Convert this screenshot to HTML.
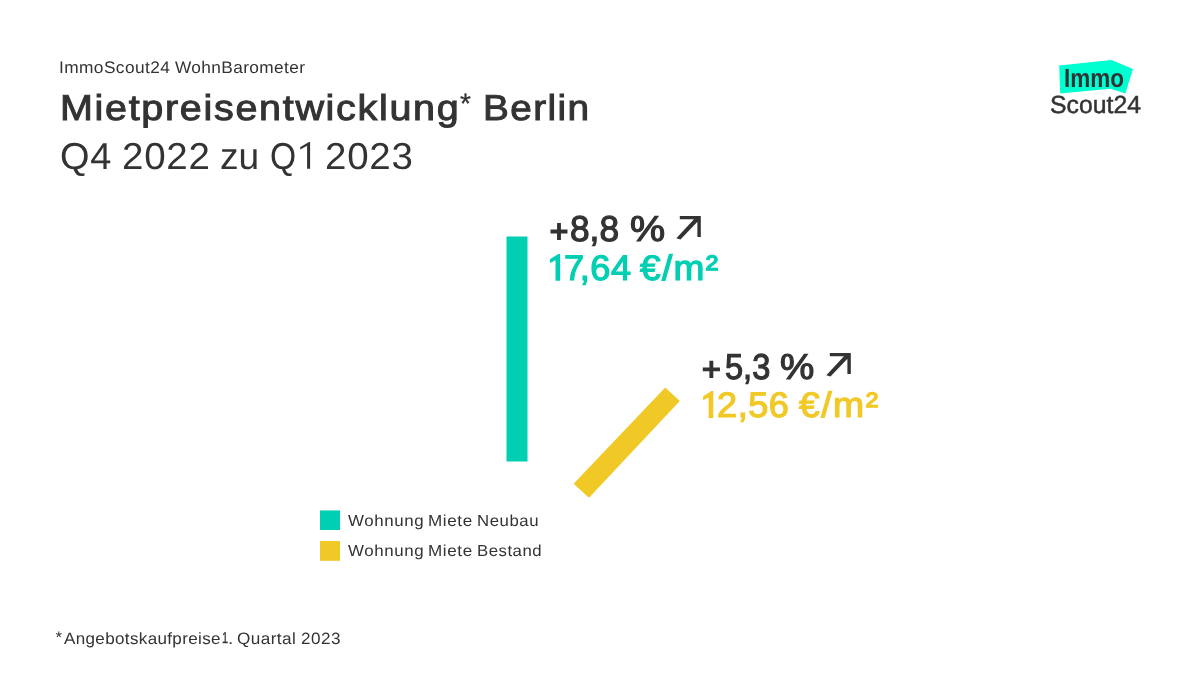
<!DOCTYPE html>
<html><head><meta charset="utf-8"><title>Mietpreisentwicklung Berlin</title>
<style>
html,body{margin:0;padding:0;background:#fff;}
body{width:1200px;height:676px;position:relative;overflow:hidden;font-family:"Liberation Sans",sans-serif;}
.t{position:absolute;white-space:nowrap;line-height:normal;font-family:"Liberation Sans",sans-serif;transform-origin:0 0;text-rendering:geometricPrecision;}
svg{position:absolute;left:0;top:0;}
#L{position:absolute;left:0;top:0;width:1200px;height:676px;will-change:transform;}
</style></head><body>
<svg width="1200" height="676" viewBox="0 0 1200 676">
<rect x="506.5" y="236.5" width="21" height="225" fill="#00cfb3"/>
<polygon points="665.2,387.4 679.8,401 589,497.8 573.6,483.8" fill="#f1c927"/>
<rect x="320" y="510.4" width="20" height="19.6" fill="#00cfb3"/>
<rect x="320" y="541" width="20" height="19.8" fill="#f1c927"/>
<polygon points="1059.2,65.5 1111.5,60.1 1132.9,69.1 1125.4,93.4 1110.4,88.8 1060.2,93.4" fill="#00ffd0"/>
<g fill="#333">
<path d="M679.8 216H700.8V237H697.4V219.2H679.8Z M676.3 238.2L696.3 216.8L699.6 219.6L680.5 239.6Z"/>
<path transform="translate(150 137)" d="M679.8 216H700.8V237H697.4V219.2H679.8Z M676.3 238.2L696.3 216.8L699.6 219.6L680.5 239.6Z"/>
<path d="M300.1 147.3L309 142H310.1V168.8H307.1V145.65L300.3 149.5Z"/>
</g>
<path d="M549.9 259.3L558.3 254H560.15V280.85H555.5V260.3L550.1 263.1Z" fill="#00cfb3"/>
<path d="M549.9 259.3L558.3 254H560.15V280.85H555.5V260.3L550.1 263.1Z" fill="#f1c927" transform="translate(153.1 137.1)"/>
</svg>
<div id="L">
<div id="h1" class="t" style="left:58.90px;top:57.57px;font-size:16.76px;letter-spacing:0.387px;color:#333;font-weight:400;transform:scaleX(1.0338235294117646);">ImmoScout24</div>
<div id="h2" class="t" style="left:175.45px;top:57.57px;font-size:16.76px;letter-spacing:0.363px;color:#333;font-weight:400;transform:scaleX(1.0311475409836066);">WohnBarometer</div>
<div id="a1" class="t" style="left:60.25px;top:87.21px;font-size:35.95px;letter-spacing:1.532px;color:#333;font-weight:400;-webkit-text-stroke:1.0px #333;transform:scaleX(1.099239543726236);">Mietpreisentwicklung</div>
<div id="a2" class="t" style="left:459.75px;top:87.13px;font-size:28.29px;letter-spacing:0.000px;color:#333;font-weight:400;-webkit-text-stroke:0.3px #333;transform:scaleX(0.9908207856446215);">*</div>
<div id="a3" class="t" style="left:482.50px;top:87.21px;font-size:35.95px;letter-spacing:1.297px;color:#333;font-weight:400;-webkit-text-stroke:1.0px #333;transform:scaleX(1.0788571428571427);">Berlin</div>
<div id="s1" class="t" style="left:60.05px;top:135.29px;font-size:37.45px;letter-spacing:0.740px;color:#333;font-weight:400;transform:scaleX(1.0132275132275133);">Q4</div>
<div id="s2" class="t" style="left:122.00px;top:135.29px;font-size:37.45px;letter-spacing:0.727px;color:#333;font-weight:400;transform:scaleX(1.0289308176100629);">2022</div>
<div id="s3" class="t" style="left:219.90px;top:135.29px;font-size:37.45px;letter-spacing:0.000px;color:#333;font-weight:400;transform:scaleX(0.991569359479617);">zu</div>
<div id="s4" class="t" style="left:270.30px;top:135.29px;font-size:37.45px;letter-spacing:0.000px;color:#333;font-weight:400;transform:scaleX(0.8971503346603515);">Q</div>
<div id="s5" class="t" style="left:325.00px;top:135.29px;font-size:37.45px;letter-spacing:0.730px;color:#333;font-weight:400;transform:scaleX(1.0278996865203762);">2023</div>
<div id="p1" class="t" style="left:549.65px;top:213.21px;font-size:31.69px;letter-spacing:0.000px;color:#333;font-weight:400;-webkit-text-stroke:1.6px #333;">+</div>
<div id="p2" class="t" style="left:570.40px;top:209.42px;font-size:35.87px;letter-spacing:0.000px;color:#333;font-weight:400;-webkit-text-stroke:1.2px #333;transform:scaleX(0.9835876197368895);">8,8</div>
<div id="p3" class="t" style="left:629.85px;top:209.42px;font-size:35.87px;letter-spacing:0.000px;color:#333;font-weight:400;-webkit-text-stroke:1.2px #333;transform:scaleX(1.1009351204450957);">%</div>
<div id="v1" class="t" style="left:563.65px;top:248.36px;font-size:35.48px;letter-spacing:0.573px;color:#00cfb3;font-weight:400;-webkit-text-stroke:1.2px #00cfb3;transform:scaleX(1.0178571428571428);">7<span style='margin-left:-0.14em'>,</span>64</div>
<div id="v2" class="t" style="left:640.30px;top:248.36px;font-size:35.48px;letter-spacing:1.275px;color:#00cfb3;font-weight:400;-webkit-text-stroke:1.2px #00cfb3;transform:scaleX(1.0458333333333334);">€/m²</div>
<div id="q1" class="t" style="left:702.45px;top:351.09px;font-size:31.89px;letter-spacing:0.000px;color:#333;font-weight:400;-webkit-text-stroke:1.6px #333;transform:scaleX(1.006011112533046);">+</div>
<div id="q2" class="t" style="left:724.65px;top:346.94px;font-size:35.87px;letter-spacing:0.000px;color:#333;font-weight:400;-webkit-text-stroke:1.2px #333;transform:scaleX(0.9073360227017199);">5,3</div>
<div id="q3" class="t" style="left:780.05px;top:346.94px;font-size:35.87px;letter-spacing:0.000px;color:#333;font-weight:400;-webkit-text-stroke:1.2px #333;transform:scaleX(1.0748340608684686);">%</div>
<div id="w1" class="t" style="left:717.15px;top:384.76px;font-size:35.48px;letter-spacing:0.576px;color:#f1c927;font-weight:400;-webkit-text-stroke:1.2px #f1c927;transform:scaleX(1.0162962962962965);">2,56</div>
<div id="w2" class="t" style="left:798.70px;top:384.76px;font-size:35.48px;letter-spacing:1.425px;color:#f1c927;font-weight:400;-webkit-text-stroke:1.2px #f1c927;transform:scaleX(1.0520833333333335);">€/m²</div>
<div id="g1" class="t" style="left:348.00px;top:512.87px;font-size:15.99px;letter-spacing:0.592px;color:#333;font-weight:400;transform:scaleX(1.0567164179104478);">Wohnung</div>
<div id="g2" class="t" style="left:427.50px;top:512.87px;font-size:15.99px;letter-spacing:0.585px;color:#333;font-weight:400;transform:scaleX(1.0675675675675675);">Miete</div>
<div id="g3" class="t" style="left:476.75px;top:512.87px;font-size:15.99px;letter-spacing:0.524px;color:#333;font-weight:400;transform:scaleX(1.0488372093023255);">Neubau</div>
<div id="g4" class="t" style="left:348.00px;top:543.07px;font-size:15.99px;letter-spacing:0.592px;color:#333;font-weight:400;transform:scaleX(1.0567164179104478);">Wohnung</div>
<div id="g5" class="t" style="left:427.50px;top:543.07px;font-size:15.99px;letter-spacing:0.585px;color:#333;font-weight:400;transform:scaleX(1.0675675675675675);">Miete</div>
<div id="g6" class="t" style="left:476.50px;top:543.07px;font-size:15.99px;letter-spacing:0.476px;color:#333;font-weight:400;transform:scaleX(1.051111111111111);">Bestand</div>
<div id="f0" class="t" style="left:55.50px;top:628.12px;font-size:16.81px;letter-spacing:0.000px;color:#333;font-weight:400;">*</div>
<div id="f1" class="t" style="left:63.50px;top:630.19px;font-size:16.35px;letter-spacing:0.339px;color:#333;font-weight:400;transform:scaleX(1.0417391304347827);">Angebotskaufpreise</div>
<div id="f2" class="t" style="left:222.25px;top:630.22px;font-size:15.68px;letter-spacing:0.000px;color:#333;font-weight:400;-webkit-text-stroke:0.3px #333;transform:scaleX(0.7044569046924656);">1</div>
<div id="f5" class="t" style="left:228.25px;top:630.19px;font-size:16.35px;letter-spacing:0.000px;color:#333;font-weight:400;transform:scaleX(1.1666666666666667);">.</div>
<div id="f3" class="t" style="left:237.25px;top:630.19px;font-size:16.35px;letter-spacing:0.397px;color:#333;font-weight:400;transform:scaleX(1.0507246376811594);">Quartal</div>
<div id="f4" class="t" style="left:300.75px;top:630.19px;font-size:16.35px;letter-spacing:0.478px;color:#333;font-weight:400;transform:scaleX(1.0467625899280577);">2023</div>
<div id="l1" class="t" style="left:1063.90px;top:63.07px;font-size:26.21px;letter-spacing:0.000px;color:#333;font-weight:700;transform:scaleX(0.8588011374292939);">Immo</div>
<div id="l2" class="t" style="left:1049.60px;top:91.86px;font-size:24.75px;letter-spacing:0.041px;color:#333;font-weight:400;-webkit-text-stroke:0.5px #333;transform:scaleX(1.0008356545961008);">Scout24</div>
</div>
</body></html>
